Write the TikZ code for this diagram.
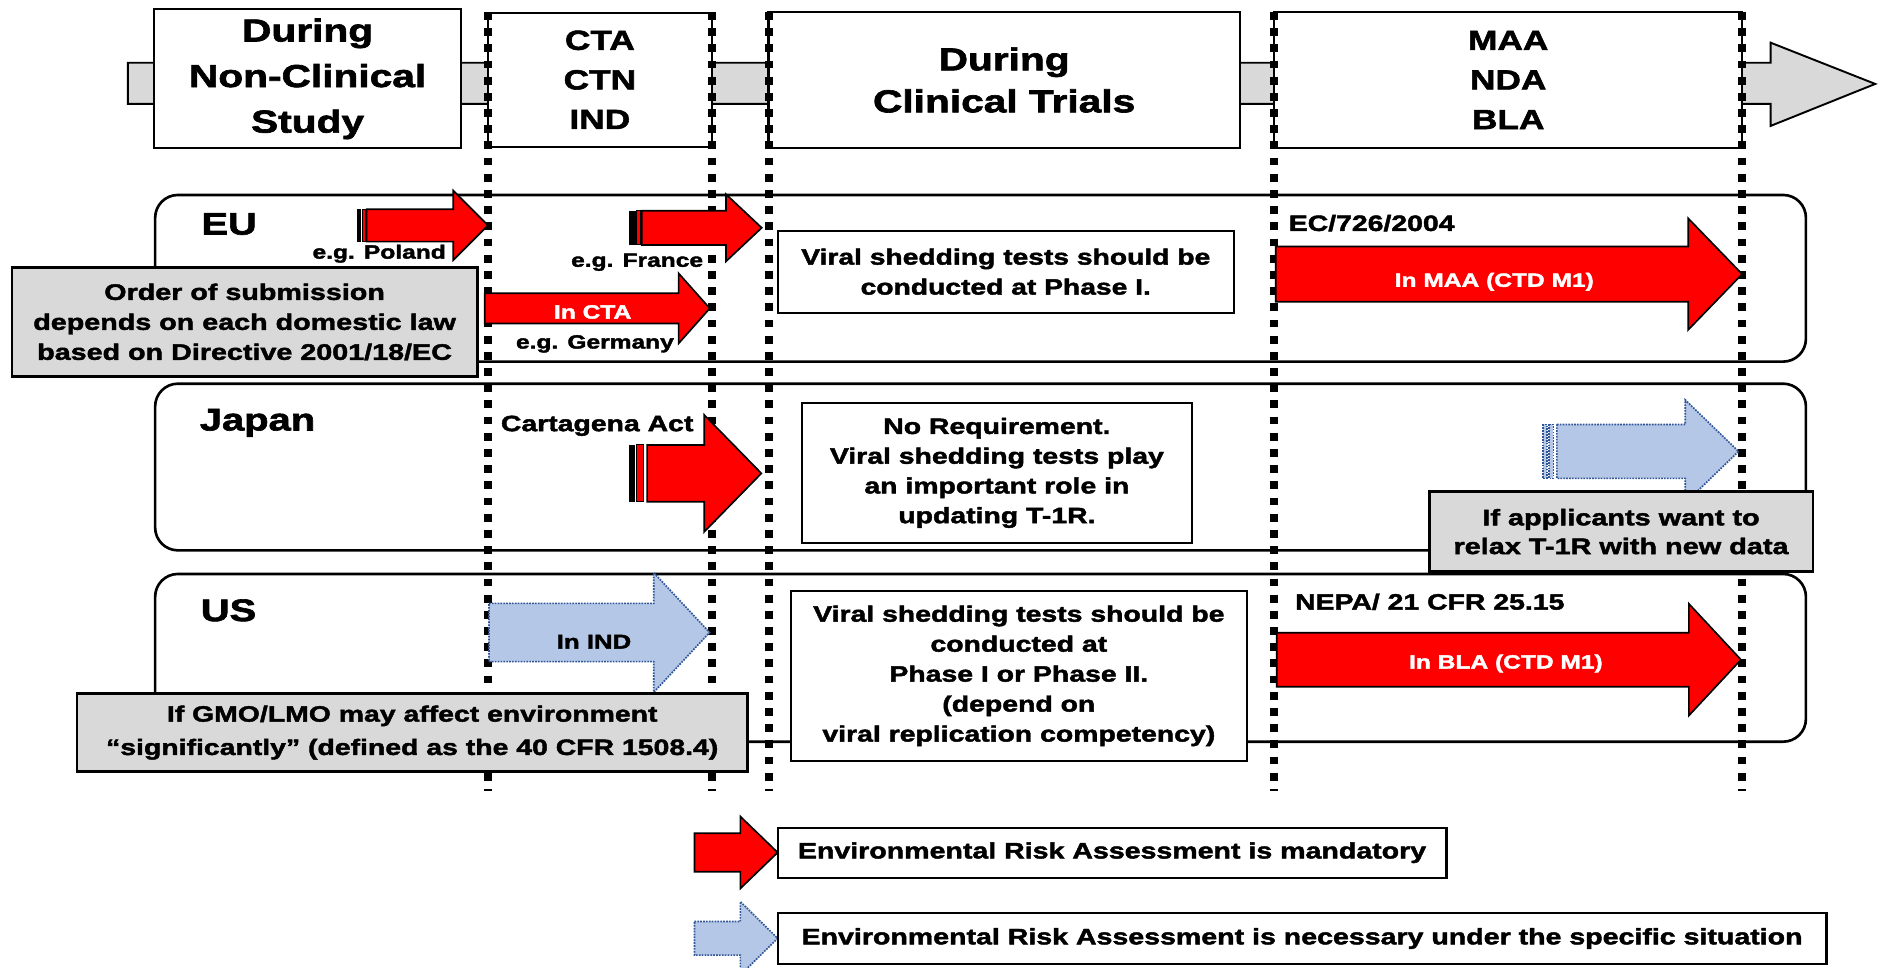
\documentclass[tikz,border=0pt]{standalone}
\usepackage{fontspec}
\setmainfont{Liberation Sans Bold}[FakeStretch=1.28, FakeBold=2]
\definecolor{gbar}{RGB}{217,217,217}
\definecolor{lblue}{RGB}{180,199,231}
\definecolor{dblue}{RGB}{47,85,151}
\newcommand\fs[2]{\fontsize{#1}{#2}\selectfont}
\newcommand\myarrow[7]{\draw[#1] (#2,{#5-#6}) -- (#3,{#5-#6}) -- (#3,{#5-#7}) -- (#4,#5) -- (#3,{#5+#7}) -- (#3,{#5+#6}) -- (#2,{#5+#6}) -- cycle;}
\tikzset{
  box/.style={draw=black, line width=1.8pt, fill=white, inner sep=0pt, align=center},
  greybox/.style={box, fill=gbar, line width=2.2pt},
  rowbox/.style={draw=black, line width=2.2pt, rounded corners=19pt},
  vline/.style={line width=7pt, dash pattern=on 6.5pt off 7pt},
  redarr/.style={fill=red, draw=black, line width=1.4pt, line join=miter},
  bluearr/.style={fill=lblue, draw=dblue, line width=1.4pt, densely dotted},
  lbl/.style={inner sep=0pt, text=black},
}
\begin{document}
\begin{tikzpicture}[x=1pt,y=-1pt]
\useasboundingbox (0,0) rectangle (1568,807);
\fill[white] (0,0) rectangle (1568,807);

% timeline bar
\draw[fill=gbar, draw=black, line width=1.6pt] (106.6,52.3) -- (1476.8,52.3) -- (1476.8,35.6) -- (1564,70) -- (1476.8,105) -- (1476.8,86.7) -- (106.6,86.7) -- cycle;

% top boxes
\node[box, minimum width=256.5pt, minimum height=115.9pt, font={\fs{26.5}{38}}] (b1) at (256.55,65.75) {During\\Non-Clinical\\Study};
\node[box, minimum width=187pt, minimum height=111.7pt, font={\fs{23}{33}}] (b2) at (500.3,66.5) {CTA\\CTN\\IND};
\node[box, minimum width=393pt, minimum height=114pt, font={\fs{26.5}{35}}] (b3) at (837.5,66.7) {During\\Clinical Trials};
\node[box, minimum width=390.2pt, minimum height=114pt, font={\fs{23}{33}}] (b4) at (1257.9,66.7) {MAA\\NDA\\BLA};

% region boxes
\draw[rowbox] (129.4,162.6) rectangle (1506.2,301.6);
\draw[rowbox] (129.4,320) rectangle (1506.2,459);
\draw[rowbox] (129.4,478.7) rectangle (1506.2,618.6);

% dotted phase lines
\foreach \xx in {406.8,594,641.3,1062.8,1453}{
  \draw[vline] (\xx,10) -- (\xx,660);
}

% EU arrows
\fill[black] (297.5,174.6) rectangle (301.3,201.6);
\filldraw[fill=red, draw=black, line width=0.8pt] (302,174.6) rectangle (304.6,201.6);
\myarrow{redarr}{305.8}{378}{407}{188}{13.5}{29}
\fill[black] (524.9,175.7) rectangle (530.3,204.3);
\filldraw[fill=red, draw=black, line width=0.8pt] (531,175.7) rectangle (534,204.3);
\myarrow{redarr}{535.2}{605.5}{635.3}{190}{14.3}{28}
\myarrow{redarr}{404.3}{566}{592}{257.2}{12.6}{29.2}
\myarrow{redarr}{1064}{1408}{1453}{228.6}{23}{46.5}

% Japan arrows
\fill[black] (524.8,371) rectangle (530,418.4);
\filldraw[fill=red, draw=black, line width=0.8pt] (531,371) rectangle (536.8,418.4);
\myarrow{redarr}{539.7}{587.4}{635}{394.8}{23.7}{48.7}
\filldraw[bluearr] (1286.7,354) rectangle (1290.2,399);
\filldraw[bluearr] (1291.8,354) rectangle (1295.6,399);
\myarrow{bluearr}{1298.5}{1405.5}{1450}{376.5}{22.5}{43}

% US arrows
\myarrow{bluearr}{407.8}{545.3}{591.8}{527.5}{24.3}{49.8}
\myarrow{redarr}{1064.8}{1408.6}{1452}{550.2}{22.5}{46.6}

% text boxes
\node[greybox, minimum width=388pt, minimum height=91pt, font={\fs{18.7}{25}}] (g1) at (204,268.5) {Order of submission\\depends on each domestic law\\based on Directive 2001/18/EC};
\node[box, minimum width=380.1pt, minimum height=68.4pt, font={\fs{18.4}{25}}] (w1) at (838.85,226.6) {Viral shedding tests should be\\conducted at Phase I.};
\node[box, minimum width=324.9pt, minimum height=117.2pt, font={\fs{18.5}{24.8}}] (w2) at (831.45,394.4) {No Requirement.\\Viral shedding tests play\\an important role in\\updating T-1R.};
\node[greybox, minimum width=320pt, minimum height=66.8pt, font={\fs{18.8}{24}}] (g2) at (1352,443.4) {If applicants want to\\relax T-1R with new data};
\node[box, minimum width=380.1pt, minimum height=142pt, font={\fs{18.5}{25}}] (w3) at (849.75,563.7) {Viral shedding tests should be\\conducted at\\Phase I or Phase II.\\(depend on\\viral replication competency)};
\node[greybox, minimum width=559.2pt, minimum height=65.3pt, font={\fs{18.5}{27.8}}] (g3) at (343.8,611) {If GMO/LMO may affect environment\\“significantly” (defined as the 40 CFR 1508.4)};

% labels
\node[lbl, anchor=base west, font={\fs{26}{30}}] (eu) at (167.8,195.6) {EU};
\node[lbl, anchor=base west, font={\fs{26}{30}}] (jp) at (166.5,359) {Japan};
\node[lbl, anchor=base west, font={\fs{26}{30}}] (us) at (167.3,518) {US};
\node[lbl, anchor=base east, font={\fs{16}{20}}] (pl) at (372,215.7) {e.g. Poland};
\node[lbl, anchor=base east, font={\fs{16}{20}}] (fr) at (586.6,222.5) {e.g. France};
\node[lbl, anchor=base, font={\fs{16}{20}}] (de) at (496.2,290.7) {e.g. Germany};
\node[lbl, anchor=base, text=white, font={\fs{16}{20}}] (cta) at (494.3,265.7) {In CTA};
\node[lbl, anchor=base west, font={\fs{18.5}{22}}] (ec) at (1074.7,192.6) {EC/726/2004};
\node[lbl, anchor=base, text=white, font={\fs{16}{20}}] (maa) at (1246.3,239.2) {In MAA (CTD M1)};
\node[lbl, anchor=base west, font={\fs{18.5}{22}}] (ca) at (417.6,359.6) {Cartagena Act};
\node[lbl, anchor=base, font={\fs{16.8}{20}}] (ind) at (495.4,541) {In IND};
\node[lbl, anchor=base west, font={\fs{18.5}{22}}] (nepa) at (1080,508.4) {NEPA/ 21 CFR 25.15};
\node[lbl, anchor=base, text=white, font={\fs{16}{20}}] (bla) at (1256,557.6) {In BLA (CTD M1)};

% legend
\myarrow{redarr}{579.2}{617.5}{648.6}{711}{16}{30}
\node[box, minimum width=557.8pt, minimum height=41.7pt, font={\fs{18.6}{22}}] (l1) at (927.5,711.15) {Environmental Risk Assessment is mandatory};
\myarrow{bluearr}{579.2}{617.5}{648.6}{782.6}{14}{30.6}
\node[box, minimum width=874.8pt, minimum height=43pt, font={\fs{18.6}{22}}] (l2) at (1086,782.8) {Environmental Risk Assessment is necessary under the specific situation};
\end{tikzpicture}
\end{document}
